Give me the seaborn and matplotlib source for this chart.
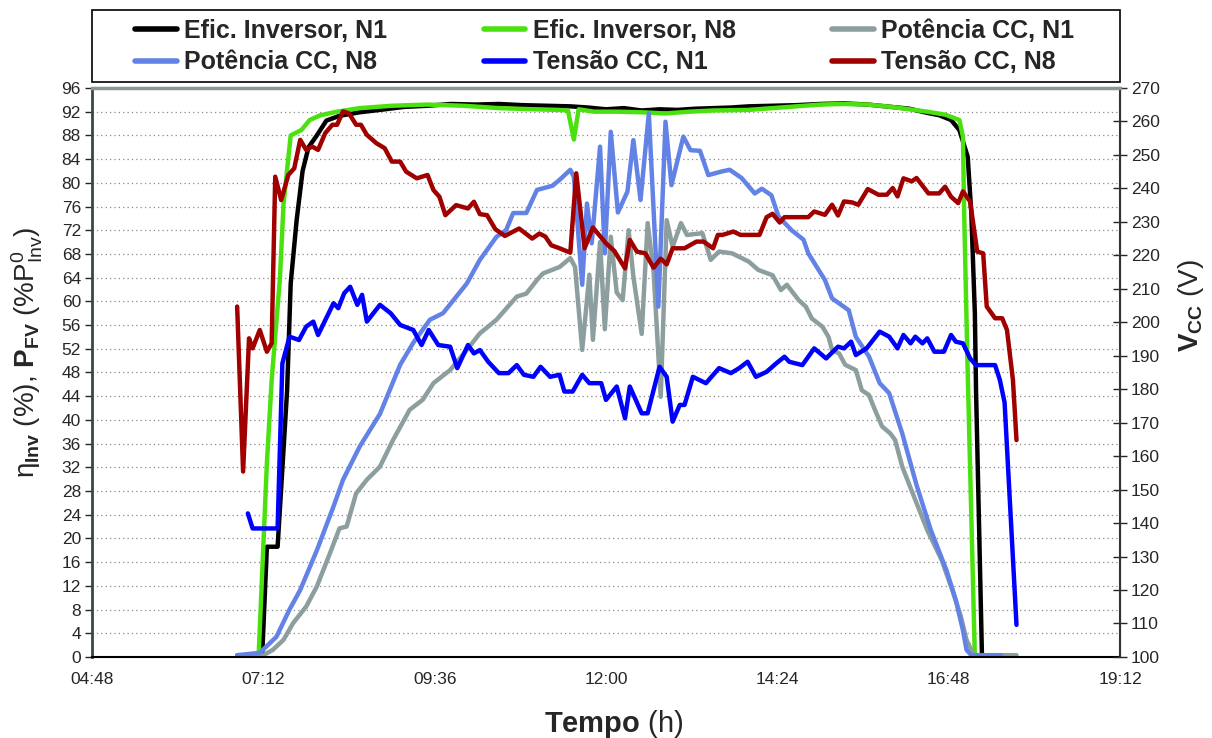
import matplotlib
matplotlib.use("Agg")
import matplotlib.pyplot as plt
from matplotlib.patches import Rectangle
from matplotlib.ticker import FuncFormatter, MultipleLocator
import seaborn as sns

# Efic. Inversor, N1 (%)
time_ef_n1 = ["06:50", "07:11", "07:15", "07:24", "07:32", "07:35", "07:40", "07:45", "07:50", "07:57",
              "08:05", "08:16", "08:33", "08:50", "09:10", "09:30", "09:50", "10:10", "10:30", "10:50",
              "11:10", "11:30", "11:45", "12:00", "12:15", "12:30", "12:45", "13:00", "13:15", "13:30",
              "13:45", "14:00", "14:20", "14:40", "15:00", "15:20", "15:40", "16:00", "16:15", "16:30",
              "16:40", "16:50", "16:57", "17:04", "17:07", "17:10", "17:11", "17:16", "17:25"]
ef_n1 = [0, 0, 18.6, 18.6, 45, 63, 73.7, 82, 86, 88,
         90.5, 91.3, 91.9, 92.3, 92.8, 93.0, 93.3, 93.2, 93.3, 93.1,
         93.0, 92.9, 92.7, 92.4, 92.6, 92.2, 92.4, 92.3, 92.5, 92.6,
         92.7, 92.9, 93.0, 93.1, 93.3, 93.4, 93.2, 92.8, 92.5, 91.8,
         91.4, 90.6, 88.9, 84.4, 75, 58, 45, 0, 0]

# Efic. Inversor, N8 (%)
time_ef_n8 = ["06:50", "07:08", "07:15", "07:19", "07:26", "07:29", "07:35", "07:44", "07:51", "08:00",
              "08:14", "08:33", "09:00", "09:30", "10:00", "10:30", "11:00", "11:20", "11:28", "11:33",
              "11:37", "11:50", "12:10", "12:30", "12:50", "13:10", "13:30", "14:00", "14:20", "14:40",
              "15:00", "15:20", "15:40", "16:00", "16:15", "16:30", "16:45", "16:57", "17:00", "17:01",
              "17:04", "17:10", "17:31"]
ef_n8 = [0, 0, 32.7, 46.7, 64, 76.5, 88, 88.9, 90.6, 91.4,
         92, 92.6, 93.0, 93.2, 93.0, 92.6, 92.4, 92.3, 92.2, 87.3,
         92.4, 92.0, 92.0, 91.9, 91.7, 92.0, 92.2, 92.3, 92.6, 92.9,
         93.2, 93.3, 93.2, 92.8, 92.4, 92.0, 91.5, 90.6, 87.8, 75,
         48, 0, 0]

# Potência CC, N1 (% of P0_Inv)
time_pcc_n1 = ["06:50", "07:12", "07:20", "07:29", "07:37", "07:48", "07:57", "08:08", "08:16", "08:22",
               "08:30", "08:39", "08:50", "09:01", "09:15", "09:26", "09:35", "09:49", "10:03", "10:14",
               "10:28", "10:45", "10:53", "11:02", "11:07", "11:21", "11:30", "11:34", "11:40", "11:46",
               "11:49", "11:55", "11:59", "12:04", "12:09", "12:14", "12:19", "12:23", "12:30", "12:35",
               "12:40", "12:46", "12:51", "12:56", "13:03", "13:08", "13:21", "13:28", "13:35", "13:46",
               "14:00", "14:08", "14:20", "14:27", "14:32", "14:42", "14:48", "14:53", "15:02", "15:07",
               "15:10", "15:16", "15:21", "15:30", "15:35", "15:41", "15:46", "15:52", "15:59", "16:03",
               "16:09", "16:17", "16:30", "16:42", "16:51", "16:58", "17:03", "17:09", "17:45"]
pcc_n1 = [0.3, 0.3, 1.2, 2.9, 5.7, 8.5, 11.9, 17.5, 21.7, 22,
          27.6, 29.9, 32.1, 36.6, 41.7, 43.4, 46.2, 48.4, 51.8, 54.6,
          56.9, 60.8, 61.3, 63.6, 64.7, 65.8, 67.3, 65.8, 51.8, 64.5,
          53.5, 70, 55.3, 70.9, 61.5, 60.2, 72, 64.2, 54.5, 73.2,
          65, 43.9, 73.7, 69.2, 73.2, 71.2, 71.5, 67, 68.4, 68.1,
          66.7, 65.3, 64.4, 61.9, 62.8, 60.2, 59.1, 57.1, 55.7, 54,
          51.8, 51.2, 49.3, 48.4, 45, 44.2, 41.7, 38.9, 37.7, 36.6,
          32.1, 28, 21.4, 16.4, 11.3, 7, 2.9, 0.3, 0.3]

# Potência CC, N8 (% of P0_Inv)
time_pcc_n8 = ["06:50", "07:09", "07:23", "07:34", "07:43", "07:57", "08:11", "08:19", "08:33", "08:50",
               "09:07", "09:18", "09:32", "09:43", "10:03", "10:14", "10:28", "10:36", "10:42", "10:53",
               "11:02", "11:15", "11:21", "11:30", "11:33", "11:40", "11:44", "11:48", "11:55", "11:59",
               "12:04", "12:10", "12:18", "12:23", "12:29", "12:36", "12:44", "12:50", "12:55", "13:05",
               "13:11", "13:19", "13:26", "13:37", "13:44", "13:54", "14:05", "14:11", "14:19", "14:25",
               "14:36", "14:46", "14:50", "15:04", "15:10", "15:24", "15:30", "15:41", "15:50", "15:58",
               "16:09", "16:21", "16:33", "16:46", "16:54", "17:00", "17:03", "17:07", "17:32"]
pcc_n8 = [0.3, 0.7, 3.4, 8, 11.3, 18, 25.4, 29.9, 35.5, 41,
          49.3, 53, 56.9, 58, 63, 67, 70.9, 72, 74.9, 74.9,
          78.8, 79.5, 80.5, 82.2, 81, 62.8, 76.5, 69.8, 86.1, 68.1,
          88.6, 75, 78.5, 87.2, 77.1, 91.7, 59.1, 90.3, 79.6, 87.8,
          85.5, 85.4, 81.3, 81.9, 82.2, 80.8, 78.2, 79, 77.9, 74.3,
          72, 70.4, 68.1, 63.6, 60.5, 58.5, 54, 50.7, 46.2, 44.5,
          37.7, 29, 21.4, 14.7, 9.6, 4.5, 1.2, 0.3, 0.3]

# Tensão CC, N1 (V)
time_vcc_n1 = ["06:59", "07:03", "07:24", "07:28", "07:34", "07:42", "07:48", "07:54", "07:58", "08:11",
               "08:15", "08:20", "08:25", "08:31", "08:35", "08:39", "08:50", "08:59", "09:07", "09:18",
               "09:25", "09:31", "09:39", "09:49", "09:55", "10:04", "10:09", "10:14", "10:21", "10:30",
               "10:38", "10:45", "10:51", "10:59", "11:05", "11:13", "11:21", "11:25", "11:32", "11:40",
               "11:46", "11:56", "12:00", "12:09", "12:16", "12:20", "12:30", "12:35", "12:45", "12:51",
               "12:56", "13:02", "13:06", "13:13", "13:24", "13:35", "13:45", "13:52", "13:59", "14:06",
               "14:15", "14:23", "14:30", "14:34", "14:45", "14:55", "15:05", "15:15", "15:20", "15:26",
               "15:30", "15:39", "15:50", "15:58", "16:05", "16:10", "16:16", "16:20", "16:26", "16:30",
               "16:36", "16:44", "16:50", "16:54", "17:00", "17:06", "17:11", "17:27", "17:31", "17:35",
               "17:45"]
vcc_n1 = [142.9, 138.4, 138.4, 187.7, 195.7, 194.7, 198.7, 200.2, 196.2, 205.7,
          204.2, 208.7, 210.6, 205.2, 208.2, 200.2, 205.2, 202.7, 199.2, 197.7,
          193.2, 197.7, 193.2, 192.7, 186.3, 193.2, 190.7, 191.7, 188.2, 184.8,
          184.8, 187.2, 184.3, 183.7, 186.7, 183.7, 184.3, 179.3, 179.3, 184.3,
          181.8, 181.8, 176.8, 180.8, 171.3, 180.8, 172.8, 172.8, 186.7, 183.7,
          170.3, 175.3, 175.3, 183.7, 181.8, 186.3, 184.8, 186.3, 188.2, 183.7,
          185.2, 187.7, 189.7, 188.2, 187.2, 192.2, 189.2, 192.7, 192.2, 194.2,
          190.2, 192.2, 197.2, 195.7, 192.2, 196.2, 193.7, 195.7, 193.7, 195.2,
          191.2, 191.2, 196.2, 194.2, 193.7, 189.2, 187.2, 187.2, 182.8, 176,
          109.6]

# Tensão CC, N8 (V)
time_vcc_n8 = ["06:50", "06:55", "07:00", "07:03", "07:09", "07:15", "07:19", "07:22", "07:27", "07:33",
               "07:38", "07:43", "07:48", "07:53", "07:58", "08:04", "08:10", "08:14", "08:19", "08:24",
               "08:30", "08:34", "08:39", "08:47", "08:54", "09:00", "09:07", "09:12", "09:21", "09:30",
               "09:35", "09:40", "09:45", "09:54", "10:04", "10:09", "10:14", "10:20", "10:27", "10:35",
               "10:47", "10:58", "11:04", "11:09", "11:14", "11:21", "11:30", "11:35", "11:42", "11:49",
               "12:00", "12:07", "12:16", "12:20", "12:26", "12:33", "12:40", "12:46", "12:51", "12:56",
               "13:06", "13:16", "13:22", "13:30", "13:34", "13:38", "13:47", "13:53", "14:09", "14:15",
               "14:20", "14:26", "14:30", "14:50", "14:55", "15:04", "15:10", "15:15", "15:20", "15:27",
               "15:32", "15:40", "15:49", "15:56", "16:01", "16:05", "16:10", "16:17", "16:21", "16:31",
               "16:40", "16:45", "16:50", "16:56", "17:00", "17:06", "17:12", "17:17", "17:20", "17:27",
               "17:33", "17:37", "17:42", "17:45"]
vcc_n8 = [204.7, 155.4, 195.2, 192.2, 197.7, 191.2, 193.7, 243.5, 236.5, 244,
          246, 254.5, 251.5, 252.5, 251.5, 256.5, 259, 259, 263, 262.4,
          259, 259, 256, 253.5, 252, 248, 248, 245, 243, 244,
          239.5, 237.5, 232, 235, 234, 236, 232.3, 232, 227.8, 225.8,
          228, 225, 226.5, 225.6, 223, 222.1, 220.8, 244.5, 222.1, 228.3,
          223.6, 221.3, 216.1, 224.6, 221.1, 220.6, 216.3, 219, 217.3, 222.1,
          222.1, 224.1, 224.1, 222.1, 226.1, 226.1, 227.1, 226.1, 226.1, 231.4,
          232.4, 229.8, 231.4, 231.4, 233.1, 232.1, 235.1, 231.9, 236.1, 235.8,
          235.1, 239.8, 238.1, 238.1, 240.1, 237.6, 243, 242.1, 243.1, 238.5,
          238.5, 240.5, 237.5, 235.6, 239.1, 236.1, 221.1, 220.6, 204.7, 201.2,
          201.2, 197.7, 182.8, 164.8]

x_ticks = [4.8, 7.2, 9.6, 12.0, 14.4, 16.8, 19.2]


def to_hours(times):
    out = []
    for t in times:
        h, m = t.split(":")
        out.append(int(h) + int(m) / 60)
    return out


def hhmm(v, pos=None):
    total = int(round(v * 60))
    return f"{total // 60:02d}:{total % 60:02d}"


sns.set_style("white")
plt.rcParams['font.family'] = ['Liberation Sans', 'DejaVu Sans']
plt.rcParams['mathtext.fontset'] = 'custom'
plt.rcParams['mathtext.rm'] = 'Liberation Sans'
plt.rcParams['mathtext.it'] = 'Liberation Sans'
plt.rcParams['mathtext.bf'] = 'Liberation Sans:bold'

fig = plt.figure(figsize=(12.12, 7.38), dpi=100)
ax = fig.add_axes([0.0759, 0.1098, 0.8482, 0.771])
ax2 = ax.twinx()

lw = 3.2
# Left axis series
sns.lineplot(x=to_hours(time_ef_n1), y=ef_n1, ax=ax, color='black', linewidth=lw,
             label='Efic. Inversor, N1', estimator=None, sort=False)
sns.lineplot(x=to_hours(time_ef_n8), y=ef_n8, ax=ax, color='#4BE10F', linewidth=lw,
             label='Efic. Inversor, N8', estimator=None, sort=False)
sns.lineplot(x=to_hours(time_pcc_n1), y=pcc_n1, ax=ax, color='#8C9E9E', linewidth=lw,
             label='Potência CC, N1', estimator=None, sort=False)
sns.lineplot(x=to_hours(time_pcc_n8), y=pcc_n8, ax=ax, color='#6382E6', linewidth=lw,
             label='Potência CC, N8', estimator=None, sort=False)
# Right axis series
sns.lineplot(x=to_hours(time_vcc_n1), y=vcc_n1, ax=ax2, color='#0000FF', linewidth=lw,
             label='Tensão CC, N1', estimator=None, sort=False)
sns.lineplot(x=to_hours(time_vcc_n8), y=vcc_n8, ax=ax2, color='#A00000', linewidth=lw,
             label='Tensão CC, N8', estimator=None, sort=False)

h1, l1 = ax.get_legend_handles_labels()
h2, l2 = ax2.get_legend_handles_labels()
ax.get_legend().remove()
ax2.get_legend().remove()
handles = h1 + h2
labels = l1 + l2
# column-wise fill so rows read: EficN1 EficN8 PotN1 / PotN8 TensN1 TensN8
order = [0, 3, 1, 4, 2, 5]
leg = fig.legend([handles[i] for i in order], [labels[i] for i in order],
                 loc='center', bbox_to_anchor=(0.499, 1 - 46.5 / 738),
                 ncol=3, frameon=False, handlelength=1.65, borderaxespad=0,
                 prop={'weight': 'bold', 'size': 18},
                 labelspacing=0.3, borderpad=0, handletextpad=0.3, columnspacing=3.87)
for line in leg.get_lines():
    line.set_linewidth(4)
# legend box (drawn separately to span the plot width)
fig.patches.append(Rectangle((92 / 1212, 1 - 82 / 738), 1028 / 1212, 72 / 738,
                             transform=fig.transFigure, fill=False,
                             edgecolor='black', linewidth=1.2))

# Axes limits and ticks
ax.set_xlim(4.8, 19.2)
ax.set_ylim(0, 96)
ax2.set_ylim(100, 270)
ax.set_xticks(x_ticks)
ax.xaxis.set_major_formatter(FuncFormatter(hhmm))
ax.yaxis.set_major_locator(MultipleLocator(4))
ax2.yaxis.set_major_locator(MultipleLocator(10))

ax.yaxis.grid(True, linestyle=(0, (1, 2.5)), color='#8a8a8a', linewidth=0.9)
ax.xaxis.grid(False)
ax.set_axisbelow(True)

ax.tick_params(axis='y', direction='out', length=5, width=1, labelsize=12.5, pad=3)
ax.tick_params(axis='x', direction='out', length=5, width=1, labelsize=12.5, pad=6)
ax2.tick_params(axis='y', direction='inout', length=10, width=1, labelsize=12.5, pad=3)

ax.spines['left'].set_color('#3c4646')
ax.spines['left'].set_linewidth(2)
ax.spines['bottom'].set_color('black')
ax.spines['bottom'].set_linewidth(1.5)
ax2.spines['right'].set_color('#333333')
ax2.spines['right'].set_linewidth(1.5)
ax2.spines['top'].set_color('#8a9696')
ax2.spines['top'].set_linewidth(2.5)
ax.spines['top'].set_visible(False)
ax2.spines['left'].set_visible(False)
ax2.spines['bottom'].set_visible(False)

ax.set_xlabel(r'$\mathbf{Tempo}$ (h)', fontsize=21)
ax.xaxis.set_label_coords(0.5075, -0.09)
ax.set_ylabel(r'$\eta_{\mathbf{Inv}}$ (%), $\mathbf{P}_{\mathbf{FV}}$ (%P$^{0}_{\mathrm{Inv}}$)',
              fontsize=20)
ax.yaxis.set_label_coords(-0.046, 0.536)
ax2.set_ylabel(r'$\mathbf{V}_{\mathbf{CC}}$ (V)', fontsize=20)
ax2.yaxis.set_label_coords(1.054, 0.617)

fig.savefig('out.png', dpi=100)
